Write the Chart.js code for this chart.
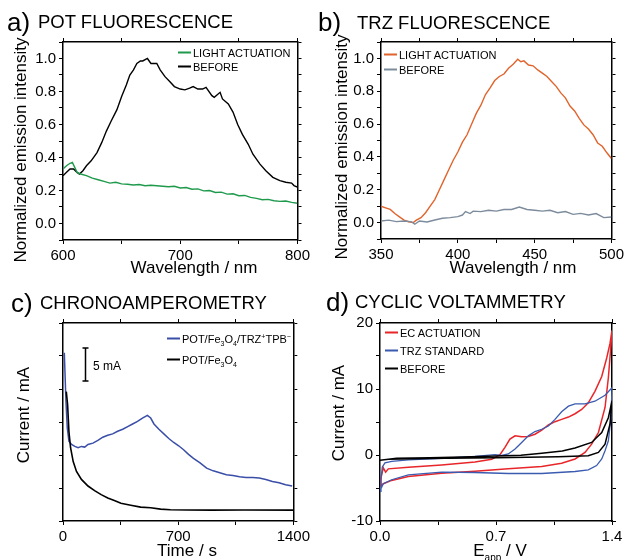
<!DOCTYPE html>
<html>
<head>
<meta charset="utf-8">
<script src="https://cdn.jsdelivr.net/npm/chart.js@4.4.1/dist/chart.umd.min.js"></script>
<style>
  body { margin: 0; width: 627px; height: 560px; background: #fff; position: relative; overflow: hidden;
         font-family: "Liberation Sans", Arial, sans-serif; color: #000; }
  canvas { position: absolute; }
  .t { position: absolute; line-height: 1; white-space: nowrap; }
  .letter { font-size: 26px; }
  .title { font-size: 18.5px; }
  .ytitle { font-size: 17px; transform: translate(-50%, -50%) rotate(-90deg); }
  .xtitle { font-size: 17px; transform: translate(-50%, -50%); }
  .leg { font-size: 11px; transform: translateY(-50%); }
  .leg i { display: inline-block; width: 13px; height: 2px; vertical-align: middle; margin-right: 2px; position: relative; top: -1px; }
  .sm { font-size: 7px; position: relative; }
</style>
</head>
<body>
<canvas id="chartA" width="313" height="250" style="left:0;top:30px"></canvas>
<canvas id="chartB" width="314" height="250" style="left:313px;top:30px"></canvas>
<canvas id="chartC" width="313" height="250" style="left:0;top:310px"></canvas>
<canvas id="chartD" width="314" height="250" style="left:313px;top:310px"></canvas>

<div class="t letter" style="left:7px;top:9px">a)</div>
<div class="t title" style="left:38px;top:13px">POT FLUORESCENCE</div>
<div class="t letter" style="left:318px;top:9px">b)</div>
<div class="t title" style="left:357px;top:14px">TRZ FLUORESCENCE</div>
<div class="t letter" style="left:11px;top:290px">c)</div>
<div class="t title" style="left:40px;top:294px">CHRONOAMPEROMETRY</div>
<div class="t letter" style="left:326px;top:289px">d)</div>
<div class="t title" style="left:355px;top:293px">CYCLIC VOLTAMMETRY</div>

<div class="t ytitle" style="left:20px;top:150px">Normalized emission intensity</div>
<div class="t ytitle" style="left:341px;top:147px">Normalized emission intensity</div>
<div class="t ytitle" style="left:23px;top:415px">Current / mA</div>
<div class="t ytitle" style="left:338px;top:413px">Current / mA</div>
<div class="t xtitle" style="left:194px;top:267px">Wavelength / nm</div>
<div class="t xtitle" style="left:513px;top:267px">Wavelength / nm</div>
<div class="t xtitle" style="left:187px;top:550px">Time / s</div>
<div class="t xtitle" style="left:500px;top:550px">E<span style="font-size:10px;position:relative;top:5px">app</span> / V</div>

<div class="t leg" style="left:178px;top:53px"><i style="background:#1f9a4c"></i>LIGHT ACTUATION</div>
<div class="t leg" style="left:178px;top:67px"><i style="background:#000"></i>BEFORE</div>
<div class="t leg" style="left:384px;top:55px"><i style="background:#e0642c"></i>LIGHT ACTUATION</div>
<div class="t leg" style="left:384px;top:70px"><i style="background:#7d8c9c"></i>BEFORE</div>
<div class="t leg" style="left:167px;top:339px"><i style="background:#3a4ea8"></i>POT/Fe<span class="sm" style="top:3px">3</span>O<span class="sm" style="top:3px">4</span>/TRZ<span class="sm" style="top:-4px">+</span>TPB<span class="sm" style="top:-4px">&minus;</span></div>
<div class="t leg" style="left:167px;top:360px"><i style="background:#000"></i>POT/Fe<span class="sm" style="top:3px">3</span>O<span class="sm" style="top:3px">4</span></div>
<div class="t" style="left:93px;top:360px;font-size:12px">5 mA</div>
<div class="t leg" style="left:385px;top:333px"><i style="background:#e8262a"></i>EC ACTUATION</div>
<div class="t leg" style="left:385px;top:351px"><i style="background:#3a5bb0"></i>TRZ STANDARD</div>
<div class="t leg" style="left:385px;top:369px"><i style="background:#000"></i>BEFORE</div>

<script>
// a) POT fluorescence
const potWl = [600,603,606,609,612,614,617,620,624,629,633,637,641,646,650,654,657,660,663,666,668,672,675,680,683,687,691,695,700,704,708,711,715,719,722,727,729,734,736,741,745,749,753,758,762,768,773,779,785,790,795,797,800];
const potBefore = [0.29,0.31,0.33,0.33,0.31,0.30,0.32,0.35,0.38,0.43,0.49,0.56,0.62,0.69,0.77,0.84,0.90,0.93,0.97,0.985,0.985,1.0,0.97,0.97,0.93,0.89,0.86,0.83,0.815,0.81,0.82,0.83,0.815,0.815,0.825,0.775,0.765,0.795,0.755,0.725,0.675,0.60,0.54,0.48,0.42,0.36,0.32,0.28,0.26,0.25,0.245,0.23,0.22];
const potLightWl = [600,603,606,608,610,612,615,620,625,630,635,640,645,650,655,660,665,670,675,680,685,690,695,700,705,710,715,720,725,730,735,740,745,750,755,760,765,770,775,780,785,790,795,800];
const potLight = [0.33,0.35,0.365,0.37,0.34,0.31,0.30,0.29,0.275,0.265,0.255,0.245,0.25,0.24,0.238,0.233,0.236,0.229,0.232,0.229,0.226,0.223,0.226,0.215,0.218,0.208,0.21,0.198,0.2,0.188,0.19,0.178,0.18,0.168,0.17,0.158,0.152,0.144,0.146,0.138,0.134,0.136,0.128,0.123];

// b) TRZ fluorescence
const trzWl = [350,353,356,359,362,365,368,371,373,376,379,382,385,388,391,394,397,400,403,406,409,412,415,418,421,424,427,430,433,436,439,441,443,446,449,452,455,458,461,464,467,470,473,476,479,482,485,488,491,494,497,500];
const trzLight = [0.10,0.09,0.08,0.055,0.035,0.015,0.005,0.0,0.015,0.03,0.06,0.10,0.14,0.20,0.26,0.32,0.38,0.43,0.49,0.535,0.60,0.665,0.715,0.78,0.82,0.865,0.89,0.905,0.94,0.965,0.995,0.98,0.985,0.96,0.955,0.93,0.91,0.89,0.86,0.83,0.79,0.76,0.71,0.68,0.635,0.595,0.57,0.535,0.485,0.465,0.425,0.39];
const trzBeforeWl = [350,355,360,365,370,372,375,380,385,390,395,400,403,405,408,410,415,420,425,430,435,440,445,450,455,460,465,470,475,480,485,490,495,500];
const trzBefore = [0.01,0.015,0.006,0.01,0.004,-0.01,0.01,0.004,0.016,0.026,0.03,0.036,0.046,0.067,0.055,0.07,0.067,0.075,0.07,0.08,0.08,0.095,0.08,0.075,0.07,0.075,0.06,0.067,0.05,0.056,0.046,0.055,0.03,0.034];

// c) chronoamperometry (mA)
const caTimeTrz = [8,18,26,36,52,72,92,112,132,152,182,212,242,272,302,332,363,393,423,453,483,513,533,553,583,613,643,673,703,733,763,793,833,873,913,953,993,1033,1073,1113,1153,1193,1233,1273,1313,1353,1393];
const caTrz = [25.5,18.1,14.1,12.1,11.6,11.3,11.1,11.3,11.2,11.6,11.8,12.2,12.7,13.0,13.2,13.6,13.9,14.3,14.7,15.1,15.6,16.0,15.6,14.7,13.9,13.2,12.5,11.9,11.4,10.8,10.1,9.5,8.8,8.0,7.6,7.3,7.0,6.9,6.7,6.6,6.6,6.5,6.3,6.0,5.8,5.5,5.3];
const caTimePot = [20,28,36,46,62,82,112,152,192,232,272,312,352,412,472,533,593,653,753,900,1100,1400];
const caPot = [19.6,17.6,13.6,11.1,9.0,7.5,6.3,5.3,4.6,4.0,3.5,3.1,2.7,2.4,2.1,2.0,1.8,1.7,1.67,1.65,1.66,1.65];
const barTime = 132, barLow = 21.2, barHigh = 26.2;

// d) cyclic voltammetry: forward then reverse scan
const ecFwdV = [0,0.005,0.02,0.034,0.05,0.171,0.372,0.573,0.674,0.724,0.754,0.784,0.815,0.835,0.855,0.895,0.935,0.976,1.016,1.056,1.096,1.137,1.177,1.217,1.257,1.297,1.338,1.368,1.388,1.4];
const ecFwdI = [-4.6,-3.5,-1.95,-2.6,-2.1,-1.85,-1.5,-1.05,-0.65,0.05,1.15,2.4,2.9,2.85,2.75,2.8,3.15,3.75,4.55,5.05,5.4,5.75,6.25,6.9,7.9,9.65,11.9,14.7,16.9,18.9];
const ecRevV = [1.4,1.394,1.378,1.358,1.318,1.277,1.237,1.177,1.096,0.976,0.774,0.573,0.372,0.171,0.07,0.02,0];
const ecRevI = [18.9,16.7,11.7,7.2,3.4,1.65,0.4,-0.6,-1.25,-1.75,-2.1,-2.45,-2.75,-3.25,-3.85,-4.35,-4.75];
const trzFwdV = [0,0.006,0.014,0.03,0.071,0.171,0.372,0.573,0.694,0.734,0.774,0.815,0.855,0.895,0.935,0.976,1.016,1.056,1.096,1.137,1.177,1.237,1.297,1.358,1.4];
const trzFwdI = [-5.5,-3.9,-1.8,-1.2,-0.95,-0.75,-0.5,-0.2,0.05,-0.05,0.15,0.9,1.9,2.9,3.55,3.9,4.4,5.4,6.55,7.4,7.75,7.75,8.15,9.05,10.2];
const trzRevV = [1.4,1.394,1.378,1.358,1.338,1.307,1.257,1.177,0.976,0.774,0.573,0.372,0.171,0.07,0.02,0];
const trzRevI = [10.2,5.7,2.15,0.65,-0.6,-1.6,-2.25,-2.5,-2.8,-2.8,-2.65,-2.6,-3.0,-3.75,-4.35,-5.4];
const befFwdV = [0,0.1,0.3,0.5,0.7,0.85,0.976,1.1,1.177,1.277,1.338,1.378,1.4];
const befFwdI = [-0.8,-0.5,-0.4,-0.3,-0.15,-0.05,0.25,0.6,1.05,1.9,3.4,5.65,8.2];
const befRevV = [1.4,1.388,1.358,1.318,1.257,1.076,0.7,0.4,0.2,0.05,0];
const befRevI = [8.2,4.7,1.65,0.4,-0.1,-0.25,-0.4,-0.5,-0.55,-0.65,-0.8];

const pts = (xs, ys) => xs.map((x, i) => ({ x: x, y: ys[i] }));
const tickFont = { family: "Liberation Sans", size: 15 };

function line(data, color, width) {
  return { data: data, borderColor: color, borderWidth: width || 1.4, showLine: true, pointRadius: 0, fill: false, tension: 0 };
}

// one axis plus its mirror, ticks pointing out, sizes fixed so the plot boxes line up
function axis(pos, min, max, step, size, label) {
  return {
    type: "linear", position: pos, min: min, max: max,
    ticks: { stepSize: step, display: !!label, callback: label || (() => ""), font: tickFont, color: "#000",
             autoSkip: false, maxRotation: 0, padding: 3 },
    grid: { display: true, drawOnChartArea: false, drawTicks: true, tickLength: 4, color: "#000", lineWidth: 1 },
    border: { display: true, color: "#000", width: 1.5 },
    afterFit: (s) => { if (pos === "left" || pos === "right") s.width = size; else s.height = size; }
  };
}

function makeChart(id, datasets, sx, sy, box, plugins) {
  new Chart(document.getElementById(id), {
    type: "scatter",
    data: { datasets: datasets },
    options: {
      responsive: false, animation: false, devicePixelRatio: 1,
      layout: { padding: 0 },
      plugins: { legend: { display: false }, tooltip: { enabled: false } },
      scales: {
        x: axis("bottom", sx[0], sx[1], sx[2], box[3], sx[3]),
        xTop: axis("top", sx[0], sx[1], sx[2], box[2]),
        y: axis("left", sy[0], sy[1], sy[2], box[0], sy[3]),
        yRight: axis("right", sy[0], sy[1], sy[2], box[1])
      }
    },
    plugins: plugins || []
  });
}

const intensityLabel = (v) => { const k = Math.round(v * 10); return (k % 2 === 0 && k >= 0 && k <= 10) ? v.toFixed(1) : ""; };
const every = (n, fmt) => (v) => { const k = v / n; return Math.abs(k - Math.round(k)) < 1e-6 ? (fmt ? fmt(v) : String(v)) : ""; };

makeChart("chartA", [
  line(pts(potLightWl, potLight), "#1f9a4c"),
  line(pts(potWl, potBefore), "#000")
], [600, 800, 50, every(100)], [-0.1, 1.1, 0.1, intensityLabel], [63, 15, 12, 40]);

makeChart("chartB", [
  line(pts(trzBeforeWl, trzBefore), "#7d8c9c"),
  line(pts(trzWl, trzLight), "#e0642c")
], [350, 500, 25, every(50)], [-0.1, 1.1, 0.1, intensityLabel], [68, 14, 12, 41]);

const scaleBar = {
  id: "scaleBar",
  afterDatasetsDraw(chart) {
    const ctx = chart.ctx, x = chart.scales.x, y = chart.scales.y;
    const px = Math.round(x.getPixelForValue(barTime)) + 0.5;
    const top = y.getPixelForValue(barHigh), bot = y.getPixelForValue(barLow);
    ctx.save();
    ctx.strokeStyle = "#000";
    ctx.lineWidth = 1.5;
    ctx.beginPath();
    ctx.moveTo(px, top); ctx.lineTo(px, bot);
    ctx.moveTo(px - 3, top); ctx.lineTo(px + 3, top);
    ctx.moveTo(px - 3, bot); ctx.lineTo(px + 3, bot);
    ctx.stroke();
    ctx.restore();
  }
};

makeChart("chartC", [
  line(pts(caTimePot, caPot), "#000", 1.6),
  line(pts(caTimeTrz, caTrz), "#3a4ea8", 1.5)
], [0, 1400, 350, every(700)], [0, 30, 5], [63, 17, 13, 39], [scaleBar]);

makeChart("chartD", [
  line(pts(befFwdV.concat(befRevV), befFwdI.concat(befRevI)), "#000", 1.5),
  line(pts(trzFwdV.concat(trzRevV), trzFwdI.concat(trzRevI)), "#3a5bb0", 1.3),
  line(pts(ecFwdV.concat(ecRevV), ecFwdI.concat(ecRevI)), "#e8262a", 1.5)
], [0, 1.4, 0.35, every(0.7, (v) => v.toFixed(1))], [-10, 20, 5, every(10)], [67, 15, 13, 39]);
</script>
</body>
</html>
